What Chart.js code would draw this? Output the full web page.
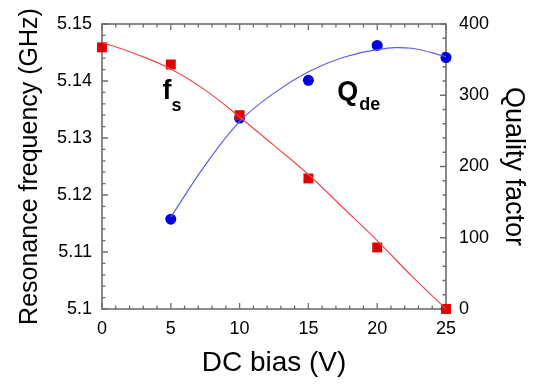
<!DOCTYPE html>
<html>
<head>
<meta charset="utf-8">
<script src="https://cdn.jsdelivr.net/npm/chart.js@4/dist/chart.umd.min.js"></script>
<style>
  html, body { margin: 0; padding: 0; background: #fff; }
  #wrap { width: 536px; height: 388px; }
</style>
</head>
<body>
<div id="wrap"><canvas id="chart1"></canvas></div>
<script>
// measured points
var biasV = [0, 5, 10, 15, 20, 25];
var fsGHz = [5.1459, 5.1429, 5.1340, 5.1229, 5.1108, 5.1000];
var qBias = [5, 10, 15, 20, 25];
var qualityFactor = [126, 268, 321, 370, 353];

// fitted curves
var fsFitBias = [0, 2.5, 5, 7.5, 10, 12.5, 15, 17.5, 20, 22.5, 25];
var fsFit = [5.1468, 5.1447, 5.1421, 5.1384, 5.1337, 5.1287, 5.1236, 5.1178, 5.1120, 5.1058, 5.1000];
var qFitBias = [5, 7.5, 10, 12.5, 15, 17.5, 20, 22.5, 25];
var qFit = [129, 202, 263, 303, 333, 353, 364, 366, 354];

// tick labels
var biasTicks = ['0', '5', '10', '15', '20', '25'];
var freqTicks = ['5.1', '5.11', '5.12', '5.13', '5.14', '5.15'];
var qTicks = ['0', '100', '200', '300', '400'];

function pts(xs, ys) {
    return xs.map(function(x, i) { return {x: x, y: ys[i]}; });
}

var tickFont = {family: 'Liberation Sans, Arial, sans-serif', size: 18};

// frame with inward ticks, like the original plot
var frame = {
    id: 'frame',
    beforeDatasetsDraw: function(chart) {
        var ctx = chart.ctx, a = chart.chartArea;
        var sx = chart.scales.x, sy = chart.scales.y, sq = chart.scales.y1;
        ctx.save();
        ctx.strokeStyle = '#6e6e6e';
        ctx.lineWidth = 1.6;
        ctx.strokeRect(a.left, a.top, a.right - a.left, a.bottom - a.top);
        ctx.lineWidth = 1.3;
        ctx.beginPath();
        var i, p, len;
        for (i = 0; i <= 25; i++) {
            p = sx.getPixelForValue(i);
            len = i % 5 === 0 ? 6 : 3.5;
            ctx.moveTo(p, a.bottom); ctx.lineTo(p, a.bottom - len);
            ctx.moveTo(p, a.top); ctx.lineTo(p, a.top + len);
        }
        for (i = 0; i <= 25; i++) {
            p = sy.getPixelForValue(5.1 + i * 0.002);
            len = i % 5 === 0 ? 6 : 3.5;
            ctx.moveTo(a.left, p); ctx.lineTo(a.left + len, p);
        }
        for (i = 0; i <= 20; i++) {
            p = sq.getPixelForValue(i * 20);
            len = i % 5 === 0 ? 6 : 3.5;
            ctx.moveTo(a.right, p); ctx.lineTo(a.right - len, p);
        }
        ctx.stroke();
        ctx.restore();
    },
    afterDatasetsDraw: function(chart) {
        var ctx = chart.ctx;
        var sx = chart.scales.x, sy = chart.scales.y, sq = chart.scales.y1;
        ctx.save();
        ctx.fillStyle = '#000';
        ctx.textBaseline = 'alphabetic';
        ctx.textAlign = 'left';
        // f_s
        var fx = sx.getPixelForValue(4.4), fy = sy.getPixelForValue(5.1368);
        ctx.font = 'bold 27px Liberation Sans, Arial, sans-serif';
        ctx.fillText('f', fx, fy);
        ctx.font = 'bold 18px Liberation Sans, Arial, sans-serif';
        ctx.fillText('s', fx + 9, fy + 12);
        // Q_de
        var qx = sx.getPixelForValue(17.1), qy = sq.getPixelForValue(293);
        ctx.font = 'bold 27px Liberation Sans, Arial, sans-serif';
        ctx.fillText('Q', qx, qy);
        ctx.font = 'bold 18px Liberation Sans, Arial, sans-serif';
        ctx.fillText('de', qx + 22, qy + 10);
        ctx.restore();
    }
};

new Chart(document.getElementById('chart1'), {
    type: 'line',
    data: {
        datasets: [{
            label: 'fs fit',
            data: pts(fsFitBias, fsFit),
            yAxisID: 'y',
            borderColor: '#f04848',
            borderWidth: 1.2,
            pointRadius: 0,
            tension: 0.4,
            fill: false,
            clip: false
        }, {
            label: 'Qde fit',
            data: pts(qFitBias, qFit),
            yAxisID: 'y1',
            borderColor: '#5c5cf2',
            borderWidth: 1.2,
            pointRadius: 0,
            tension: 0.4,
            fill: false,
            clip: false
        }, {
            label: 'fs',
            data: pts(biasV, fsGHz),
            yAxisID: 'y',
            showLine: false,
            pointStyle: 'rect',
            pointRadius: 7,
            pointBackgroundColor: '#e00000',
            pointBorderColor: '#e00000',
            pointBorderWidth: 0,
            clip: false
        }, {
            label: 'Qde',
            data: pts(qBias, qualityFactor),
            yAxisID: 'y1',
            showLine: false,
            pointStyle: 'circle',
            pointRadius: 5.5,
            pointBackgroundColor: '#0000e0',
            pointBorderColor: '#0000e0',
            pointBorderWidth: 0,
            clip: false
        }]
    },
    options: {
        responsive: true,
        maintainAspectRatio: false,
        animation: false,
        layout: {padding: {top: 24, left: 0, right: 0, bottom: 0}},
        plugins: {legend: {display: false}, tooltip: {enabled: false}},
        scales: {
            x: {
                type: 'linear',
                min: 0, max: 25,
                grid: {display: false, drawTicks: false},
                border: {display: false},
                ticks: {
                    stepSize: 5, padding: 9, color: '#000', font: tickFont,
                    callback: function(v) { return biasTicks[Math.round(v / 5)]; }
                },
                title: {
                    display: true, text: 'DC bias (V)', color: '#000',
                    font: {family: 'Liberation Sans, Arial, sans-serif', size: 28},
                    padding: {top: 0, bottom: 8}
                },
                afterFit: function(s) { s.height = 79; }
            },
            y: {
                position: 'left',
                min: 5.1, max: 5.15,
                grid: {display: false, drawTicks: false},
                border: {display: false},
                ticks: {
                    stepSize: 0.01, padding: 10, color: '#000', font: tickFont,
                    callback: function(v) { return freqTicks[Math.round((v - 5.1) / 0.01)]; }
                },
                title: {
                    display: true, text: 'Resonance frequency (GHz)', color: '#000',
                    font: {family: 'Liberation Sans, Arial, sans-serif', size: 25},
                    padding: {top: 15, bottom: 0}
                },
                afterFit: function(s) { s.width = 102; }
            },
            y1: {
                position: 'right',
                min: 0, max: 400,
                grid: {display: false, drawTicks: false},
                border: {display: false},
                ticks: {
                    stepSize: 100, padding: 13, color: '#000', font: tickFont,
                    callback: function(v) { return qTicks[Math.round(v / 100)]; }
                },
                title: {
                    display: true, text: 'Quality factor', color: '#000',
                    font: {family: 'Liberation Sans, Arial, sans-serif', size: 27},
                    padding: {top: 6, bottom: 0}
                },
                afterFit: function(s) { s.width = 90; }
            }
        }
    },
    plugins: [frame]
});
</script>
</body>
</html>
